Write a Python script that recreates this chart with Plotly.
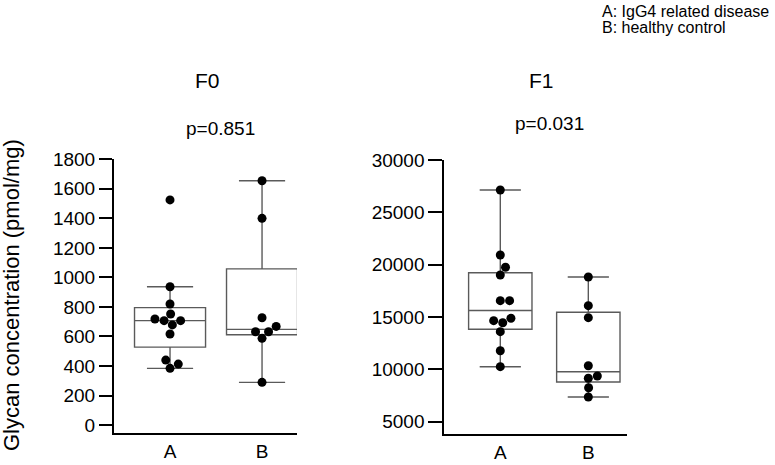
import math
import plotly.graph_objects as go

# ---------------- data ----------------
groups = ["A", "B"]
panel_titles = ["F0", "F1"]
p_values = ["p=0.851", "p=0.031"]

f0_a = [1525, 937, 820, 752, 718, 707, 707, 678, 617, 440, 413, 384]
f0_b = [1655, 1400, 727, 668, 632, 632, 587, 289]
f1_a = [27136, 20924, 19751, 19015, 16560, 16560, 14878, 14650, 14457, 13600, 11780, 10255]
f1_b = [18824, 16083, 14936, 10350, 9366, 9146, 8248, 7360]

# box statistics (q1, median, q3, lower whisker, upper whisker)
f0_q1 = [528, 612]
f0_med = [707, 648]
f0_q3 = [795, 1058]
f0_lo = [384, 289]
f0_hi = [937, 1655]

f1_q1 = [13825, 8793]
f1_med = [15620, 9777]
f1_q3 = [19235, 15452]
f1_lo = [10255, 7360]
f1_hi = [27136, 18824]

y0_ticks = [0, 200, 400, 600, 800, 1000, 1200, 1400, 1600, 1800]
y1_ticks = [5000, 10000, 15000, 20000, 25000, 30000]
legend_lines = ["A: IgG4 related disease", "B: healthy control"]
y_title = "Glycan concentration (pmol/mg)"

# ---------------- layout geometry ----------------
W, H = 775, 465
FONT = "Liberation Sans, Arial, sans-serif"

def fx(p):
    return p / W

def fy(p):
    return 1 - p / H

dom_x1 = [fx(114), fx(297)]
dom_y1 = [fy(433.3), fy(159.3)]
dom_x2 = [fx(444.3), fx(626.7)]
dom_y2 = [fy(434), fy(160)]
rng_x1 = [-0.609, 1.380]
rng_y1 = [-56, 1800]
rng_x2 = [-0.636, 1.436]
rng_y2 = [3825, 30000]

BOX_COLOR = "#5a5a5a"
DOT = 9.0


def scale(dom, rng, total):
    return (dom[1] - dom[0]) * total / (rng[1] - rng[0])


def swarm(vals, ypx, xpx, d):
    n = len(vals)
    offs = [0.0] * n
    placed = []
    order = sorted(range(n), key=lambda i: vals[i])
    for i in order:
        y = vals[i] * ypx
        cands = [0.0]
        for (px, pyy) in placed:
            dy = abs(y - pyy)
            if dy < d:
                dx = math.sqrt(d * d - dy * dy)
                cands += [px + dx, px - dx]
        cands.sort(key=lambda c: (round(abs(c), 6), -c))
        chosen = cands[-1]
        for c in cands:
            if all((c - px) ** 2 + (y - pyy) ** 2 >= d * d - 1e-6 for px, pyy in placed):
                chosen = c
                break
        placed.append((chosen, y))
        offs[i] = chosen / xpx
    return offs


fig = go.Figure()

panels = [
    (f0_a, f0_b, f0_q1, f0_med, f0_q3, f0_lo, f0_hi, "x", "y", dom_x1, dom_y1, rng_x1, rng_y1, 0.772),
    (f1_a, f1_b, f1_q1, f1_med, f1_q3, f1_lo, f1_hi, "x2", "y2", dom_x2, dom_y2, rng_x2, rng_y2, 0.72),
]

for (va, vb, q1, med, q3, lo, hi, xa, ya, dx, dy, rx, ry, bw) in panels:
    fig.add_trace(go.Box(
        x=[0, 1], q1=q1, median=med, q3=q3, lowerfence=lo, upperfence=hi,
        boxpoints=False, width=bw, whiskerwidth=0.65,
        fillcolor="rgba(255,255,255,0)",
        line=dict(color=BOX_COLOR, width=1.4),
        xaxis=xa, yaxis=ya, showlegend=False, hoverinfo="skip",
    ))
    xpx = scale(dx, rx, W)
    ypx = scale(dy, ry, H)
    for gi, vals in enumerate([va, vb]):
        offs = swarm(vals, ypx, xpx, DOT + 0.3)
        fig.add_trace(go.Scatter(
            x=[gi + o for o in offs], y=vals, mode="markers",
            marker=dict(color="black", size=DOT, line=dict(width=0)),
            xaxis=xa, yaxis=ya, showlegend=False, hoverinfo="skip",
        ))

axis_common = dict(showgrid=False, zeroline=False, showline=True, linecolor="black",
                   linewidth=2, automargin=False,
                   tickfont=dict(family=FONT, size=19, color="black"))

fig.update_layout(
    width=W, height=H, margin=dict(l=0, r=0, t=0, b=0, pad=0, autoexpand=False),
    paper_bgcolor="white", plot_bgcolor="white",
    font=dict(family=FONT, color="black"),
    xaxis=dict(domain=dom_x1, range=rng_x1, tickvals=[0, 1], ticktext=groups,
               ticks="", anchor="y", **axis_common),
    yaxis=dict(domain=dom_y1, range=rng_y1, tickvals=y0_ticks, ticktext=[str(v) for v in y0_ticks],
               ticks="outside", ticklen=13, tickwidth=2, tickcolor="black", anchor="x", **axis_common),
    xaxis2=dict(domain=dom_x2, range=rng_x2, tickvals=[0, 1], ticktext=groups,
                ticks="", anchor="y2", **axis_common),
    yaxis2=dict(domain=dom_y2, range=rng_y2, tickvals=y1_ticks, ticktext=[str(v) for v in y1_ticks],
                ticks="outside", ticklen=14, tickwidth=2, tickcolor="black", anchor="x2", **axis_common),
)

ann = []
for title, xc in zip(panel_titles, [207.5, 541]):
    ann.append(dict(text=title, x=fx(xc), y=fy(80), xref="paper", yref="paper",
                    showarrow=False, xanchor="center", yanchor="middle",
                    font=dict(family=FONT, size=21, color="black")))
for ptxt, xc, yc in zip(p_values, [220, 549], [129, 124]):
    ann.append(dict(text=ptxt, x=fx(xc), y=fy(yc), xref="paper", yref="paper",
                    showarrow=False, xanchor="center", yanchor="middle",
                    font=dict(family=FONT, size=19, color="black")))
for line, yc in zip(legend_lines, [12, 28]):
    ann.append(dict(text=line, x=fx(600), y=fy(yc), xref="paper", yref="paper",
                    showarrow=False, xanchor="left", yanchor="middle",
                    font=dict(family=FONT, size=16, color="black")))
ann.append(dict(text=y_title, x=fx(11), y=fy(295), xref="paper", yref="paper",
                showarrow=False, xanchor="center", yanchor="middle", textangle=-90,
                font=dict(family=FONT, size=22, color="black")))
fig.update_layout(annotations=ann)

fig.write_html("out.html", config={"displayModeBar": False},
               post_script="document.body.style.margin='0';document.body.style.overflow='hidden';")
